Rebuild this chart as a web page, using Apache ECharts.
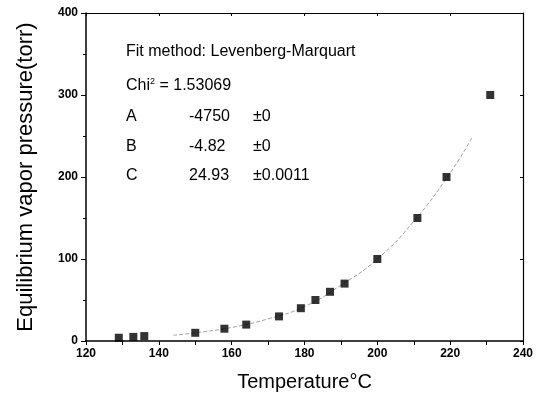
<!DOCTYPE html>
<html lang="en">
<head>
    <meta charset="UTF-8">
    <title>Vapor pressure fit</title>
    <script src="https://cdn.jsdelivr.net/npm/echarts@6/dist/echarts.min.js"></script>
    <style>
        html, body { margin: 0; padding: 0; background: #fff; }
        #main { width: 546px; height: 398px; }
    </style>
</head>
<body>
<div id="main"></div>
<script>
    // measured points (temperature in C, pressure in torr)
    var tempC = [129, 133, 136, 150, 158, 164, 173, 179, 183, 187, 191, 200, 211, 219, 231];
    var pressure = [4, 5, 6, 10, 15, 20, 30, 40, 50, 60, 70, 100, 150, 200, 300];

    // fitted curve
    var curveX = [144, 150, 160, 170, 180, 190, 200, 210, 220, 226];
    var curveY = [7, 10, 16.5, 27, 42, 68, 100, 146, 205, 248];

    var xTicks = [120, 140, 160, 180, 200, 220, 240];
    var yTicks = [0, 100, 200, 300, 400];

    var fitLines = [
        ['A', '-4750', '±0'],
        ['B', '-4.82', '±0'],
        ['C', '24.93', '±0.0011']
    ];

    var font = '"Liberation Sans", Arial, sans-serif';
    var chart = echarts.init(document.getElementById('main'));

    var pts = tempC.map(function (t, i) { return [t, pressure[i]]; });
    var fit = curveX.map(function (t, i) { return [t, curveY[i]]; });

    var texts = [];
    texts.push({
        type: 'text', left: 126, top: 44,
        style: { text: 'Fit method: Levenberg-Marquart', font: '16px ' + font, fill: '#000' }
    });
    texts.push({
        type: 'text', left: 126, top: 77,
        style: {
            text: 'Chi{sup|2} = 1.53069', font: '16px ' + font, fill: '#000',
            rich: { sup: { fontSize: 9, verticalAlign: 'top', padding: [0, 0, 9, 0], fontFamily: font } }
        }
    });
    var rowY = [109, 139, 168];
    var colX = [126, 189, 253];
    fitLines.forEach(function (row, r) {
        row.forEach(function (cell, c) {
            texts.push({
                type: 'text', left: colX[c], top: rowY[r],
                style: { text: cell, font: '16px ' + font, fill: '#000' }
            });
        });
    });

    var option = {
        backgroundColor: '#fff',
        animation: false,
        grid: { left: 86, right: 23, top: 13, bottom: 57 },
        xAxis: [{
            type: 'value', min: 120, max: 240, interval: 20,
            name: 'Temperature°C', nameLocation: 'middle', nameGap: 31,
            nameTextStyle: { fontSize: 20, fontFamily: font, color: '#000' },
            axisLine: { onZero: false, lineStyle: { color: '#000', width: 1.5 } },
            axisTick: { inside: false, length: 4, lineStyle: { color: '#000' } },
            minorTick: { show: true, splitNumber: 2, length: 4, lineStyle: { color: '#000' } },
            axisLabel: { fontSize: 12, fontWeight: 'bold', fontFamily: font, color: '#000', margin: 7,
                customValues: xTicks },
            splitLine: { show: false }
        }, {
            type: 'value', min: 120, max: 240, interval: 20, position: 'top',
            axisLine: { onZero: false, lineStyle: { color: '#000', width: 1.2 } },
            axisTick: { inside: true, length: 3, lineStyle: { color: '#000' } },
            axisLabel: { show: false },
            splitLine: { show: false }
        }],
        yAxis: [{
            type: 'value', min: 0, max: 400, interval: 100,
            name: 'Equilibrium vapor pressure(torr)', nameLocation: 'middle', nameGap: 49,
            nameTextStyle: { fontSize: 22, fontFamily: font, color: '#000' },
            axisLine: { show: true, onZero: false, lineStyle: { color: '#000', width: 1.5 } },
            axisTick: { show: true, inside: false, length: 5, lineStyle: { color: '#000' } },
            minorTick: { show: true, splitNumber: 2, length: 3, lineStyle: { color: '#000' } },
            axisLabel: { fontSize: 12, fontWeight: 'bold', fontFamily: font, color: '#000', margin: 8,
                customValues: yTicks },
            splitLine: { show: false }
        }, {
            type: 'value', min: 0, max: 400, interval: 100, position: 'right',
            axisLine: { show: true, onZero: false, lineStyle: { color: '#000', width: 1.2 } },
            axisTick: { show: true, inside: true, length: 3, lineStyle: { color: '#000' } },
            axisLabel: { show: false },
            splitLine: { show: false }
        }],
        series: [{
            name: 'fit', type: 'line', data: fit, smooth: true, symbol: 'none',
            lineStyle: { color: '#888', width: 0.8, type: [4, 2] }, z: 2
        }, {
            name: 'data', type: 'scatter', data: pts, symbol: 'rect', symbolSize: 8,
            itemStyle: { color: '#000' }, z: 3
        }],
        graphic: texts
    };

    chart.setOption(option);
</script>
</body>
</html>
